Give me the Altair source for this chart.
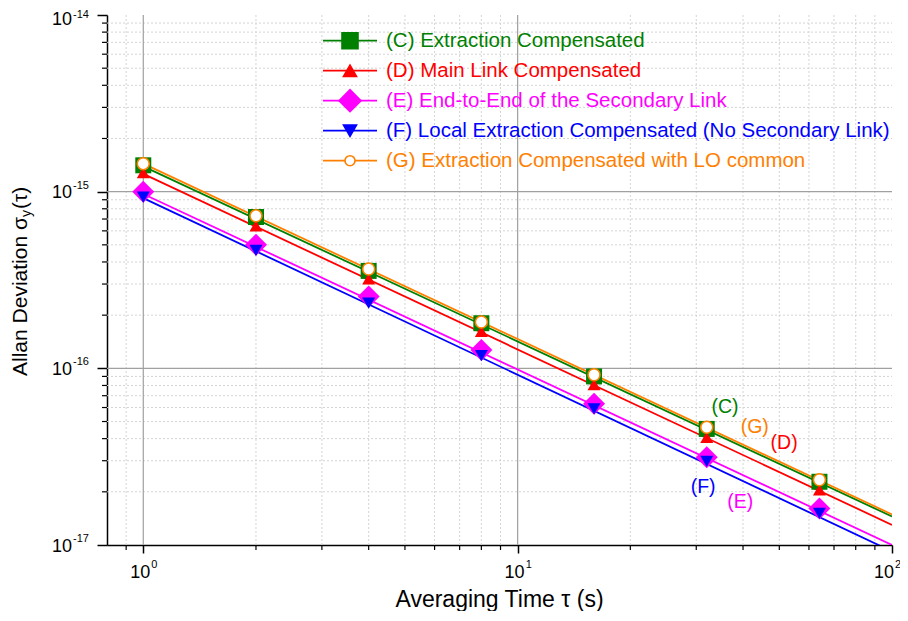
import altair as alt
import pandas as pd

# ---------------- data ----------------
tau = [1, 2, 4, 8, 16, 32, 64]
c_vals = [1.41e-15, 7.19e-16, 3.56e-16, 1.80e-16, 9.0e-17, 4.54e-17, 2.28e-17]
d_vals = [1.28e-15, 6.4e-16, 3.21e-16, 1.62e-16, 8.1e-17, 4.07e-17, 2.05e-17]
e_vals = [1.0e-15, 5.0e-16, 2.55e-16, 1.27e-16, 6.3e-17, 3.14e-17, 1.61e-17]
f_vals = [0.93e-15, 4.65e-16, 2.34e-16, 1.18e-16, 5.9e-17, 2.97e-17, 1.51e-17]
g_vals = [1.44e-15, 7.3e-16, 3.65e-16, 1.83e-16, 9.2e-17, 4.64e-17, 2.34e-17]

# fitted lines (end points at tau = 1 and tau = 100)
line_tau = [1, 100]
c_line = [1.39e-15, 1.45e-17]
d_line = [1.26e-15, 1.30e-17]
e_line = [0.97e-15, 1.0e-17]
f_line = [0.92e-15, 0.92e-17]
g_line = [1.44e-15, 1.49e-17]

legend_labels = [
    "(C) Extraction Compensated",
    "(D) Main Link Compensated",
    "(E) End-to-End of the Secondary Link",
    "(F) Local Extraction Compensated (No Secondary Link)",
    "(G) Extraction Compensated with LO common",
]
ann_labels = ["(C)", "(G)", "(D)", "(F)", "(E)"]
ann_x = [35.8, 43.0, 51.5, 31.3, 39.3]
ann_y = [6.05e-17, 4.67e-17, 3.79e-17, 2.13e-17, 1.75e-17]

x_major = [1, 10]
x_minor = [0.9, 2, 3, 4, 5, 6, 7, 8, 9, 20, 30, 40, 50, 60, 70, 80, 90]
y_major = [1e-16, 1e-15]
y_minor = [m * 10.0 ** e for e in (-17, -16, -15) for m in range(2, 10)]
x_label_vals = [1, 10]
x_label_exp = ["0", "1"]
x_last_val = [100]
x_last_exp = ["2"]
y_label_vals = [1e-17, 1e-16, 1e-15]
y_label_exp = ["-17", "-16", "-15"]
y_top_val = [1e-14]
y_top_exp = ["-14"]

# ---------------- styles ----------------
GREEN, RED, MAGENTA, BLUE, ORANGE = "#008000", "#FF0000", "#FF00FF", "#0000FF", "#FF8000"
ann_colors = [GREEN, ORANGE, RED, BLUE, MAGENTA]
legend_colors = [GREEN, RED, MAGENTA, BLUE, ORANGE]
legend_fills = [GREEN, RED, MAGENTA, BLUE, "white"]
legend_shapes = ["square", "triangle-up", "diamond", "triangle-down", "circle"]
legend_sizes = [256, 169, 484, 169, 100]
FONT = "Liberation Sans"
W, H = 785, 530

xs = alt.Scale(type="log", domain=[0.8, 100], nice=False)
ys = alt.Scale(type="log", domain=[1e-17, 1e-14], nice=False)
xaxis = alt.Axis(values=[1, 10, 100], labels=False, title=None, grid=False,
                 tickSize=8, tickWidth=1.5, tickColor="black",
                 domainColor="black", domainWidth=1.5)
yaxis = alt.Axis(values=[1e-17, 1e-16, 1e-15, 1e-14], labels=False, title=None,
                 grid=False, tickSize=10, tickWidth=1.5, tickColor="black",
                 domainColor="black", domainWidth=1.5)


def X(f):
    return alt.X(f, type="quantitative", scale=xs, axis=xaxis)


def Y(f):
    return alt.Y(f, type="quantitative", scale=ys, axis=yaxis)


df_xminor = pd.DataFrame({"v": x_minor})
df_xmajor = pd.DataFrame({"v": x_major})
df_yminor = pd.DataFrame({"v": y_minor})
df_ymajor = pd.DataFrame({"v": y_major})

layers = []
# grids
layers.append(alt.Chart(df_xminor).mark_rule(color="#d4d4d4", strokeDash=[2, 2], strokeWidth=1)
              .encode(x=X("v"), y=alt.value(0), y2=alt.value(H)))
layers.append(alt.Chart(df_yminor).mark_rule(color="#d4d4d4", strokeDash=[2, 2], strokeWidth=1)
              .encode(y=Y("v"), x=alt.value(0), x2=alt.value(W)))
layers.append(alt.Chart(df_xmajor).mark_rule(color="#a0a0a0", strokeWidth=1.2)
              .encode(x=X("v"), y=alt.value(0), y2=alt.value(H)))
layers.append(alt.Chart(df_ymajor).mark_rule(color="#a0a0a0", strokeWidth=1.2)
              .encode(y=Y("v"), x=alt.value(0), x2=alt.value(W)))
# minor ticks
layers.append(alt.Chart(df_xminor).mark_rule(color="black", strokeWidth=1.2)
              .encode(x=X("v"), y=alt.value(H), y2=alt.value(H + 5)))
layers.append(alt.Chart(df_yminor).mark_rule(color="black", strokeWidth=1.2)
              .encode(y=Y("v"), x=alt.value(-5), x2=alt.value(0)))

# fit lines
for vals, col in [(c_line, GREEN), (d_line, RED), (e_line, MAGENTA), (f_line, BLUE), (g_line, ORANGE)]:
    d = pd.DataFrame({"tau": line_tau, "y": vals})
    layers.append(alt.Chart(d).mark_line(color=col, strokeWidth=1.8, clip=True)
                  .encode(x=X("tau"), y=Y("y")))

# markers
marker_specs = [
    (c_vals, dict(shape="square", size=256, filled=True, color=GREEN, opacity=1)),
    (d_vals, dict(shape="triangle-up", size=169, filled=True, color=RED, opacity=1)),
    (e_vals, dict(shape="diamond", size=484, filled=True, color=MAGENTA, opacity=1)),
    (f_vals, dict(shape="triangle-down", size=169, filled=True, color=BLUE, opacity=1)),
    (g_vals, dict(shape="circle", size=144, filled=True, fill="white", stroke=ORANGE,
                  strokeWidth=1.6, opacity=1)),
]
for vals, kw in marker_specs:
    d = pd.DataFrame({"tau": tau, "y": vals})
    layers.append(alt.Chart(d).mark_point(**kw).encode(x=X("tau"), y=Y("y")))

# annotations
df_ann = pd.DataFrame({"x": ann_x, "y": ann_y, "t": ann_labels, "c": ann_colors})
layers.append(alt.Chart(df_ann).mark_text(font=FONT, fontSize=19.5, align="center", baseline="middle")
              .encode(x=X("x"), y=Y("y"), text="t:N", color=alt.Color("c:N", scale=None)))

# tick labels (10 with superscript exponent)
for vals, exps, dx in [(x_label_vals, x_label_exp, 7), (x_last_val, x_last_exp, 2)]:
    df_xl = pd.DataFrame({"v": vals, "e": exps})
    layers.append(alt.Chart(df_xl).mark_text(font=FONT, fontSize=18, align="right", baseline="middle",
                                             dx=dx, color="black")
                  .encode(x=X("v"), y=alt.value(H + 28), text=alt.value("10")))
    layers.append(alt.Chart(df_xl).mark_text(font=FONT, fontSize=11, align="left", baseline="middle",
                                             dx=dx + 1, dy=-8, color="black")
                  .encode(x=X("v"), y=alt.value(H + 28), text="e:N"))
for vals, exps, dy, edy in [(y_label_vals, y_label_exp, 1.5, -6), (y_top_val, y_top_exp, 5, -0.5)]:
    df_yl = pd.DataFrame({"v": vals, "e": exps})
    layers.append(alt.Chart(df_yl).mark_text(font=FONT, fontSize=18, align="right", baseline="middle",
                                             dy=dy, color="black")
                  .encode(y=Y("v"), x=alt.value(-35), text=alt.value("10")))
    layers.append(alt.Chart(df_yl).mark_text(font=FONT, fontSize=11, align="left", baseline="middle",
                                             dy=edy, color="black")
                  .encode(y=Y("v"), x=alt.value(-34), text="e:N"))

# axis titles
layers.append(alt.Chart(pd.DataFrame({"t": ["Averaging Time τ (s)"]}))
              .mark_text(font=FONT, fontSize=23, align="center", baseline="middle", color="black")
              .encode(x=alt.value(W / 2), y=alt.value(H + 55), text="t:N"))
ytitle_parts = ["Allan Deviation σ", "y", "(τ)"]
df_yt = pd.DataFrame({"t": ytitle_parts})
layers.append(alt.Chart(df_yt).transform_filter(alt.datum.t == ytitle_parts[0])
              .mark_text(font=FONT, fontSize=21, angle=270, align="left", baseline="middle", color="black")
              .encode(x=alt.value(-86), y=alt.value(361), text="t:N"))
layers.append(alt.Chart(df_yt).transform_filter(alt.datum.t == ytitle_parts[1])
              .mark_text(font=FONT, fontSize=14, angle=270, align="left", baseline="middle", color="black")
              .encode(x=alt.value(-80), y=alt.value(202), text="t:N"))
layers.append(alt.Chart(df_yt).transform_filter(alt.datum.t == ytitle_parts[2])
              .mark_text(font=FONT, fontSize=21, angle=270, align="left", baseline="middle", color="black")
              .encode(x=alt.value(-86), y=alt.value(194), text="t:N"))

main = alt.layer(*layers)

# custom legend
df_leg = pd.DataFrame({"row": list(range(len(legend_labels))), "label": legend_labels,
                       "col": legend_colors, "fillc": legend_fills, "shp": legend_shapes,
                       "sz": legend_sizes})
ly = alt.Y("row:O", scale=alt.Scale(type="point", range=[25.7, 145.7], padding=0), axis=None)
leg_line = alt.Chart(df_leg).mark_rule(strokeWidth=1.8).encode(
    y=ly, x=alt.value(216), x2=alt.value(270), color=alt.Color("col:N", scale=None))
leg_mark = alt.Chart(df_leg).mark_point(filled=True, opacity=1, strokeWidth=1.6).encode(
    y=ly, x=alt.value(243),
    fill=alt.Fill("fillc:N", scale=None), stroke=alt.Stroke("col:N", scale=None),
    shape=alt.Shape("shp:N", scale=None), size=alt.Size("sz:Q", scale=None))
leg_text = alt.Chart(df_leg).mark_text(font=FONT, fontSize=20.5, align="left", baseline="middle").encode(
    y=ly, x=alt.value(279), text="label:N", color=alt.Color("col:N", scale=None))
legend = alt.layer(leg_line, leg_mark, leg_text)

chart = alt.layer(main, legend).resolve_scale(y="independent").properties(
    width=W, height=H,
    autosize=alt.AutoSizeParams(type="none"),
    padding={"left": 99, "top": 7, "right": 8, "bottom": 66},
    background="white",
).configure_view(stroke=None)

chart.save("out.html", embed_options={"renderer": "svg", "actions": False})
